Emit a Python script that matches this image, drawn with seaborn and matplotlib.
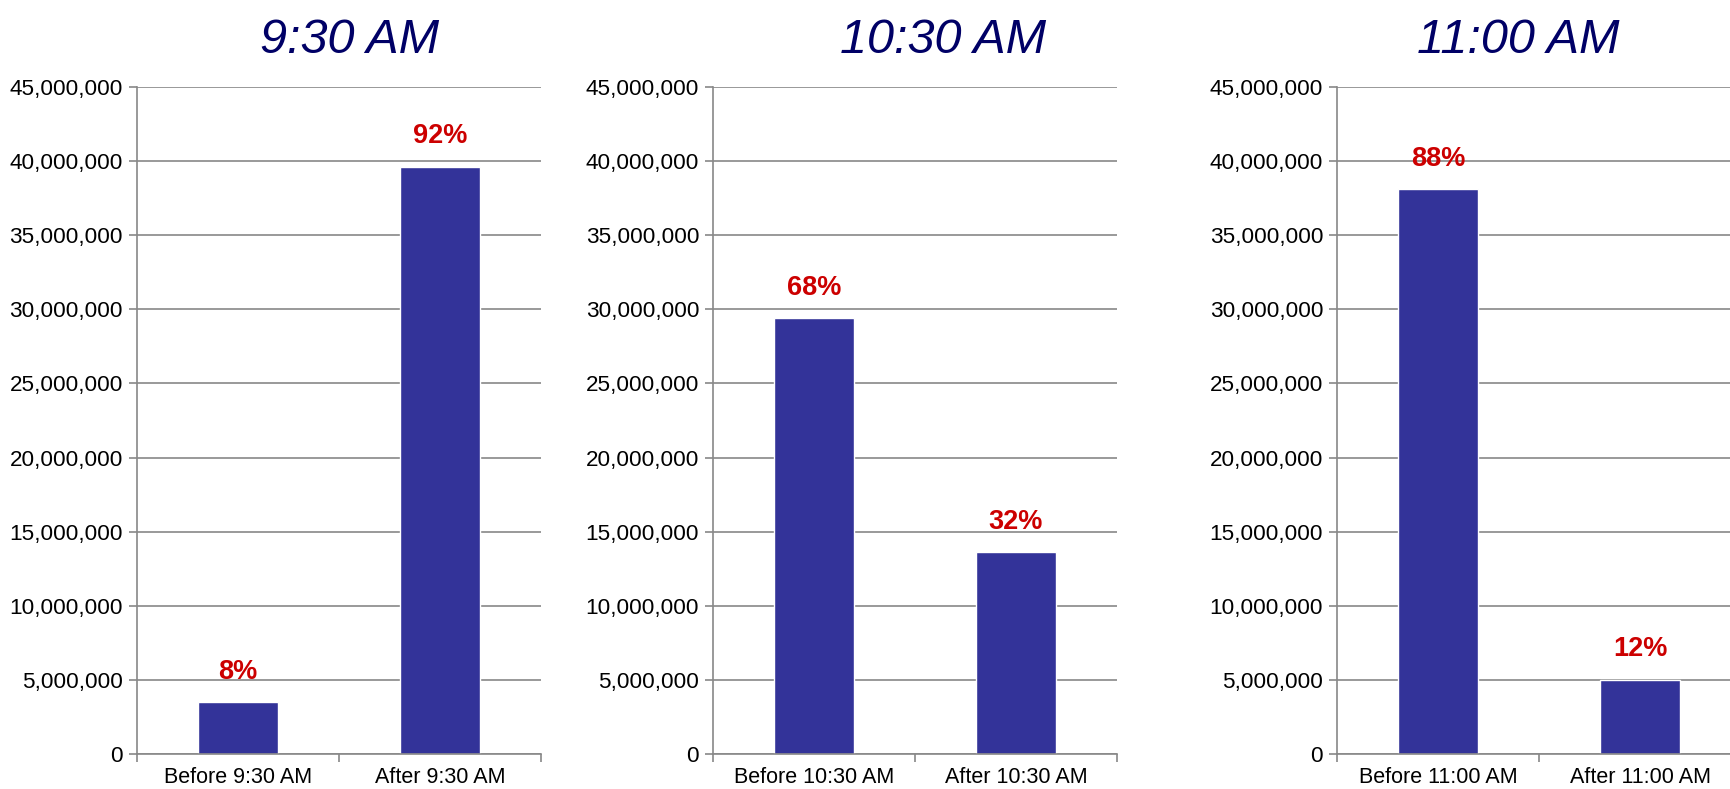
import matplotlib
matplotlib.use('Agg')
import matplotlib.pyplot as plt
import seaborn as sns
import pandas as pd
from matplotlib.ticker import FuncFormatter, FixedLocator

sns.set_style('white')
plt.rcParams['font.family'] = ['Liberation Sans', 'DejaVu Sans']

# data
titles = ['9:30 AM', '10:30 AM', '11:00 AM']
before_vals = [3_500_000, 29_400_000, 38_100_000]
after_vals = [39_600_000, 13_600_000, 5_000_000]

bar_color = '#333399'
grid_color = '#888888'

fig = plt.figure(figsize=(17.31, 7.89), dpi=100)

# axes boxes (figure fractions) and title x centres
lefts = [0.0791, 0.4119, 0.7724]
title_x = [0.2022, 0.5447, 0.877]

for i, t in enumerate(titles):
    ax = fig.add_axes([lefts[i], 0.0444, 0.2334, 0.8454])
    df = pd.DataFrame({'cat': ['Before ' + t, 'After ' + t],
                       'val': [before_vals[i], after_vals[i]]})
    sns.barplot(data=df, x='cat', y='val', color=bar_color, width=0.4,
                saturation=1, ax=ax)
    ax.set_xlim(-0.5, 1.5)
    ax.set_ylim(0, 45_000_000)
    ax.set_yticks(range(0, 45_000_001, 5_000_000))
    ax.yaxis.set_major_formatter(FuncFormatter(lambda v, p: f'{int(v):,}'))
    ax.set_xlabel('')
    ax.set_ylabel('')
    ax.grid(axis='y', color=grid_color, linewidth=1.2)
    ax.set_axisbelow(True)
    for s in ['top', 'right']:
        ax.spines[s].set_visible(False)
    for s in ['left', 'bottom']:
        ax.spines[s].set_color(grid_color)
        ax.spines[s].set_linewidth(1.2)
    ax.tick_params(axis='y', left=True, length=6, width=1.2, color=grid_color,
                   labelsize=16.2, labelcolor='black', pad=4)
    ax.tick_params(axis='x', which='major', bottom=False, labelsize=15.5,
                   labelcolor='black', pad=6)
    ax.xaxis.set_minor_locator(FixedLocator([-0.5, 0.5, 1.5]))
    ax.tick_params(axis='x', which='minor', bottom=True, length=6, width=1.2,
                   color=grid_color)

    # percentage labels
    total = before_vals[i] + after_vals[i]
    for j, v in enumerate([before_vals[i], after_vals[i]]):
        ax.annotate(f'{round(100 * v / total)}%', (j, v), xytext=(0, 22),
                    textcoords='offset points', ha='center', va='center',
                    color='#cc0000', fontsize=19.5, fontweight='bold')

    fig.text(title_x[i], 0.949, t, ha='center', va='center', fontsize=35,
             style='italic', color='#000066')

fig.savefig('out.png', dpi=100)
